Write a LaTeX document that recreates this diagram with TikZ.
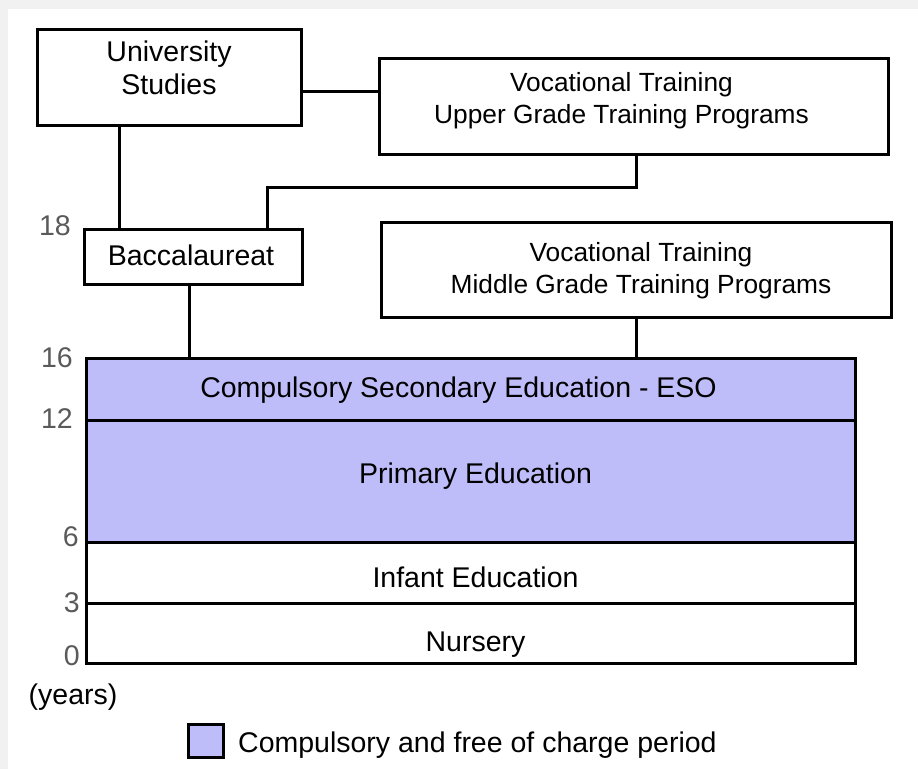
\documentclass[tikz,border=0pt]{standalone}
\usepackage{fontspec}
\setmainfont{Liberation Sans}
\usepackage{tikz}
\pgfdeclarelayer{background}
\pgfdeclarelayer{foreground}
\pgfsetlayers{background,main,foreground}
\definecolor{freeblue}{HTML}{BEBDF9}
\definecolor{agegray}{HTML}{5A5A5A}
\definecolor{framegray}{HTML}{F1F1F1}
\tikzset{
  box/.style={draw, line width=3pt, inner sep=0pt, fill=white},
  band/.style={box, minimum width=769pt},
  txt/.style={inner sep=0pt, align=center, font=\fontsize{28.5}{33}\selectfont},
  vttxt/.style={txt, font=\fontsize{26.3}{32}\selectfont},
  age/.style={txt, anchor=east, text=agegray},
  link/.style={draw, line width=3pt}
}

\begin{document}
\begin{tikzpicture}[x=1pt,y=-1pt]
\begin{pgfonlayer}{background}
\fill[white] (0,0) rectangle (918,769);
\fill[framegray] (0,0) rectangle (918,9);
\fill[framegray] (0,0) rectangle (8,769);
\end{pgfonlayer}
\useasboundingbox (0,0) rectangle (918,769);

% boxes above the compulsory period
\node[box, minimum width=264pt, minimum height=96pt] (univ) at (169.5,77.5) {};
\node[txt] (univ-t) at (169,67.5) {University\\Studies};
\node[box, minimum width=509pt, minimum height=96pt] (vtup) at (634,106.5) {};
\node[vttxt] (vtup-t) at (621.5,101) {Vocational Training\\Upper Grade Training Programs};
\node[box, minimum width=218pt, minimum height=55pt] (bacc) at (193.5,257) {};
\node[txt] (bacc-t) at (191,255) {Baccalaureat};
\node[box, minimum width=510pt, minimum height=95pt] (vtmid) at (636.5,270) {};
\node[vttxt] (vtmid-t) at (641,271) {Vocational Training\\Middle Grade Training Programs};

% stacked stages
\node[band, fill=freeblue, minimum height=61.5pt] (eso) at (471,389.25) {};
\node[band, fill=freeblue, minimum height=122pt] (prim) at (471,481) {};
\node[band, minimum height=61pt] (inf) at (471,572.5) {};
\node[band, minimum height=60.5pt] (nurs) at (471,633.25) {};
\node[txt] (eso-t) at (458.5,390) {Compulsory Secondary Education - ESO};
\node[txt] (prim-t) at (475.5,476) {Primary Education};
\node[txt] (inf-t) at (475.5,577) {Infant Education};
\node[txt] (nurs-t) at (475.5,645) {Nursery};

% ages
\node[age] (a18) at (71,226) {18};
\node[age] (a16) at (73,358) {16};
\node[age] (a12) at (73,419) {12};
\node[age] (a6) at (79,537) {6};
\node[age] (a3) at (80,603) {3};
\node[age] (a0) at (80,656) {0};
\node[txt] (years) at (73,697) {(years)};

% connectors
\draw[link] ([yshift=-13.5pt]univ.east) -- ([yshift=-13.5pt]univ.east -| vtup.west);
\draw[link] ([xshift=-50.5pt]univ.south) -- ([xshift=-50.5pt]univ.south |- bacc.north);
\draw[link] ([xshift=2pt]vtup.south) -- ++(0,31) -| ([xshift=73.5pt]bacc.north);
\draw[link] ([xshift=-4.5pt]bacc.south) -- ([xshift=-4.5pt]bacc.south |- eso.north);
\draw[link] (vtmid.south) -- (vtmid.south |- eso.north);

% legend
\node[box, fill=freeblue, minimum width=35pt, minimum height=33pt] (key) at (206,741) {};
\node[txt, anchor=west] (key-t) at (238,745) {Compulsory and free of charge period};
\end{tikzpicture}
\end{document}
